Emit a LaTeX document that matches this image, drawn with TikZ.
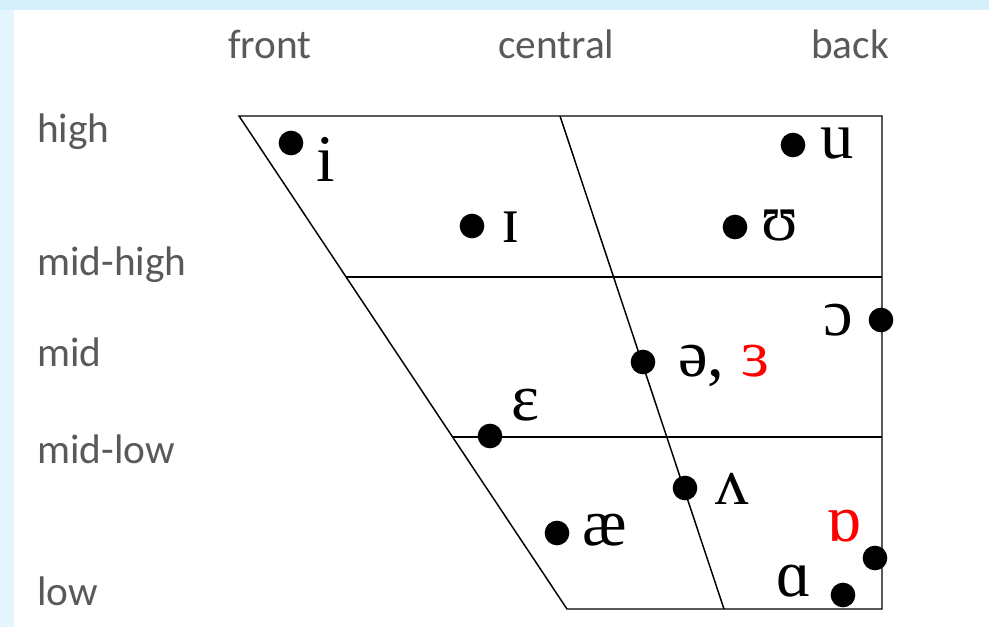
\documentclass[tikz,border=0pt]{standalone}
\usepackage{fontspec}
\newfontfamily\labfont{Carlito}
\newfontfamily\ipafont{Liberation Serif}
\definecolor{bandtop}{RGB}{214,240,251}
\definecolor{bandleft}{RGB}{228,245,253}
\definecolor{labgray}{RGB}{89,89,89}
\definecolor{ipared}{RGB}{255,0,0}
\tikzset{
  axis/.style={font=\labfont\fontsize{31}{31}\selectfont,text=labgray,inner sep=0pt,anchor=base west},
  vow/.style={font=\ipafont\fontsize{50}{50}\selectfont,inner sep=0pt,anchor=base west},
  vdot/.style={circle,fill=black,inner sep=0pt,minimum size=18.5pt},
  chart/.style={line width=1.1pt},
}
\begin{document}
\begin{tikzpicture}[x=0.75pt,y=-0.75pt]
  \useasboundingbox (0,0) rectangle (989,627);
  \fill[bandtop] (0,0) rectangle (989,10);
  \fill[bandleft] (0,10) rectangle (14,627);
  % chart outline
  \draw[chart] (239,116) -- (882,116) -- (882,609) -- (567,609) -- cycle;
  \draw[chart] (560,116) -- (724,609);
  \draw[chart] (346,277) -- (882,277);
  \draw[chart] (453,437) -- (882,437);
  % column and row labels
  \node[axis] (front) at (228,59) {front};
  \node[axis] (central) at (498,59) {central};
  \node[axis] (back) at (811,59) {back};
  \node[axis] (high) at (37,143) {high};
  \node[axis] (midhigh) at (37,276) {mid-high};
  \node[axis] (mid) at (37,366) {mid};
  \node[axis] (midlow) at (37,463) {mid-low};
  \node[axis] (low) at (37,605) {low};
  % vowels
  \node[vdot] (d-i) at (291,143) {};
  \node[vow] (v-i) at (316,182) {i};
  \node[vdot] (d-I) at (472,226) {};
  \node[vow] (v-I) at (501,243) {ɪ};
  \node[vdot] (d-u) at (793,145) {};
  \node[vow] (v-u) at (820,159) {u};
  \node[vdot] (d-U) at (735,227) {};
  \node[vow] (v-U) at (761,241) {ʊ};
  \node[vdot] (d-o) at (881,320) {};
  \node[vow] (v-o) at (823,335) {ɔ};
  \node[vdot] (d-schwa) at (643,362) {};
  \node[vow] (v-schwa) at (678,377) {ə, \textcolor{ipared}{ɜ}};
  \node[vdot] (d-e) at (490,436) {};
  \node[vow] (v-e) at (511,420) {ɛ};
  \node[vdot] (d-V) at (685,488) {};
  \node[vow] (v-V) at (715,504) {ʌ};
  \node[vdot] (d-ae) at (557,533) {};
  \node[vow] (v-ae) at (582,545) {æ};
  \node[vdot] (d-Q) at (875,558) {};
  \node[vow,text=ipared] (v-Q) at (826,541) {ɒ};
  \node[vdot] (d-A) at (843,595) {};
  \node[vow] (v-A) at (776,596) {ɑ};
\end{tikzpicture}
\end{document}
